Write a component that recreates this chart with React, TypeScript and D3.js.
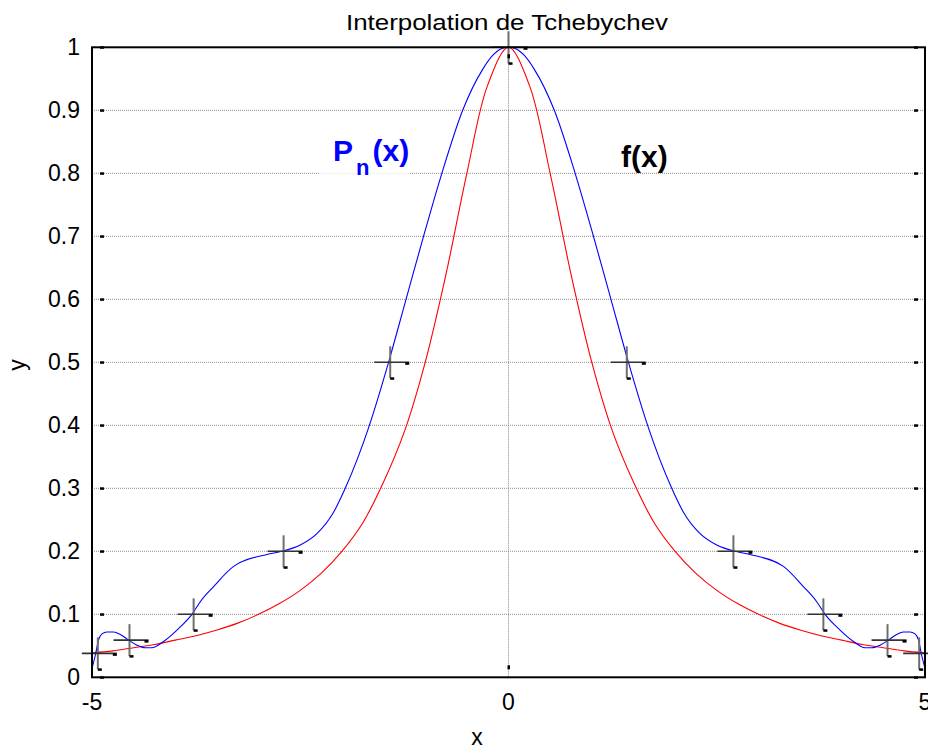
import { useRef, useEffect } from 'react';
import * as d3 from 'd3';

const W = 928;
const H = 749;

const yTicks = [0, 0.1, 0.2, 0.3, 0.4, 0.5, 0.6, 0.7, 0.8, 0.9, 1];
const yTickLabels = ['0', '0.1', '0.2', '0.3', '0.4', '0.5', '0.6', '0.7', '0.8', '0.9', '1'];
const xTicks = [-5, 0, 5];
const xTickLabels = ['-5', '0', '5'];

// f(x)
const redX = [
  -5, -4.75, -4.5, -4.25, -4, -3.75, -3.5, -3.25, -3, -2.75, -2.5, -2.25, -2, -1.75, -1.5, -1.25, -1, -0.75, -0.5, -0.25,
  0, 0.25, 0.5, 0.75, 1, 1.25, 1.5, 1.75, 2, 2.25, 2.5, 2.75, 3, 3.25, 3.5, 3.75, 4, 4.25, 4.5, 4.75, 5,
];
const redY = [
  0.039, 0.042, 0.047, 0.052, 0.059, 0.066, 0.075, 0.086, 0.1, 0.117, 0.138, 0.165, 0.2, 0.245, 0.31, 0.39, 0.5, 0.64, 0.8, 0.94,
  1.0, 0.94, 0.8, 0.64, 0.5, 0.39, 0.31, 0.245, 0.2, 0.165, 0.138, 0.117, 0.1, 0.086, 0.075, 0.066, 0.059, 0.052, 0.047, 0.042, 0.039,
];

// Pn(x)
const blueX = [
  -5, -4.96, -4.92, -4.88, -4.82, -4.74, -4.66, -4.56, -4.46, -4.36, -4.28, -4.15, -3.94, -3.8, -3.7, -3.54, -3.3, -2.9, -2.72,
  -2.5, -2.3, -2.1, -1.96, -1.67, -1.44, -1.23, -1.02, -0.8, -0.55, -0.31, -0.19, -0.08,
  0,
  0.08, 0.19, 0.31, 0.55, 0.8, 1.02, 1.23, 1.44, 1.67, 1.96, 2.1, 2.3, 2.5,
  2.72, 2.9, 3.3, 3.54, 3.7, 3.8, 3.94, 4.15, 4.28, 4.36, 4.46, 4.56, 4.66, 4.74, 4.82, 4.88, 4.92, 4.96, 5,
];
const blueY = [
  0.014, 0.035, 0.06, 0.069, 0.072, 0.072, 0.068, 0.059, 0.051, 0.047, 0.047, 0.056, 0.08, 0.1, 0.12, 0.144, 0.176, 0.195, 0.2,
  0.21, 0.228, 0.262, 0.3, 0.4, 0.5, 0.6, 0.7, 0.8, 0.9, 0.965, 0.987, 0.998,
  1.0,
  0.998, 0.987, 0.965, 0.9, 0.8, 0.7, 0.6, 0.5, 0.4, 0.3, 0.262, 0.228, 0.21,
  0.2, 0.195, 0.176, 0.144, 0.12, 0.1, 0.08, 0.056, 0.047, 0.047, 0.051, 0.059, 0.068, 0.072, 0.072, 0.069, 0.06, 0.035, 0.014,
];

// interpolation nodes (+ markers)
const nodeX = [-4.93, -4.55, -3.78, -2.7, -1.42, 0, 1.42, 2.7, 3.78, 4.55, 4.93];
const nodeY = [0.038, 0.059, 0.1, 0.2, 0.5, 1, 0.5, 0.2, 0.1, 0.059, 0.038];

const FONT = 'Arial, "Liberation Sans", Helvetica, sans-serif';

export default function App() {
  const svgRef = useRef<SVGSVGElement>(null);

  useEffect(() => {
    const svg = d3.select(svgRef.current);
    svg.selectAll('*').remove();

    const x = d3.scaleLinear().domain([-5, 5]).range([92, 925]);
    const y = d3.scaleLinear().domain([0, 1]).range([677.3, 47.3]);

    svg.append('rect').attr('width', W).attr('height', H).attr('fill', '#fff');

    // grid
    const grid = svg.append('g').attr('stroke', '#8c8c8c').attr('stroke-width', 1).attr('stroke-dasharray', '1,1');
    yTicks.slice(1, -1).forEach((t) => {
      grid.append('line').attr('x1', x(-5)).attr('x2', x(5)).attr('y1', y(t)).attr('y2', y(t));
    });
    grid.append('line').attr('x1', x(0)).attr('x2', x(0)).attr('y1', y(1)).attr('y2', y(0));

    // white patch behind the Pn label
    svg.append('rect').attr('x', 320).attr('y', y(0.8) - 2).attr('width', 90).attr('height', 4)
      .attr('fill', '#fff').attr('opacity', 0.75);

    // curves
    const redLine = d3.line<number>().x((_, i) => x(redX[i])).y((d) => y(d)).curve(d3.curveCatmullRom.alpha(0.5));
    const blueLine = d3.line<number>().x((_, i) => x(blueX[i])).y((d) => y(d)).curve(d3.curveMonotoneX);

    svg.append('path').attr('d', redLine(redY)).attr('fill', 'none').attr('stroke', '#ff0000').attr('stroke-width', 1.1);
    svg.append('path').attr('d', blueLine(blueY)).attr('fill', 'none').attr('stroke', '#0000ff').attr('stroke-width', 1.1);

    // node markers
    const mk = svg.append('g');
    nodeX.forEach((nx, i) => {
      const cx = x(nx);
      const cy = y(nodeY[i]);
      mk.append('line').attr('x1', cx).attr('x2', cx).attr('y1', cy - 16).attr('y2', cy + 16)
        .attr('stroke', '#6e6e6e').attr('stroke-width', 2);
      mk.append('line').attr('x1', cx - 16).attr('x2', cx + 19).attr('y1', cy).attr('y2', cy)
        .attr('stroke', '#333').attr('stroke-width', 1.6);
      mk.append('rect').attr('x', cx + 15).attr('y', cy).attr('width', 4).attr('height', 2.5).attr('fill', '#000');
      mk.append('rect').attr('x', cx).attr('y', cy + 15).attr('width', 4).attr('height', 2.5).attr('fill', '#000');
    });

    // axes box
    svg.append('rect').attr('x', x(-5)).attr('y', y(1)).attr('width', x(5) - x(-5)).attr('height', y(0) - y(1))
      .attr('fill', 'none').attr('stroke', '#000').attr('stroke-width', 2);

    // tick dashes (drawn a little inside the box)
    const tk = svg.append('g').attr('fill', '#000');
    yTicks.forEach((t) => {
      tk.append('rect').attr('x', x(-5) + 8).attr('y', y(t) - 1).attr('width', 4).attr('height', 2.5);
      tk.append('rect').attr('x', x(5) - 11).attr('y', y(t) - 1).attr('width', 4).attr('height', 2.5);
    });
    tk.append('rect').attr('x', x(0) - 1).attr('y', y(0) - 12).attr('width', 2.5).attr('height', 4);
    tk.append('rect').attr('x', x(0) - 1).attr('y', y(1) + 7).attr('width', 2.5).attr('height', 4);

    // tick labels
    yTicks.forEach((t, i) => {
      svg.append('text').attr('x', 80).attr('y', y(t) + 8).attr('text-anchor', 'end')
        .attr('font-family', FONT).attr('font-size', 23).attr('fill', '#000').text(yTickLabels[i]);
    });
    xTicks.forEach((t, i) => {
      svg.append('text').attr('x', x(t)).attr('y', 710).attr('text-anchor', 'middle')
        .attr('font-family', FONT).attr('font-size', 23).attr('fill', '#000').text(xTickLabels[i]);
    });

    // axis labels and title
    svg.append('text').attr('x', 477).attr('y', 745).attr('text-anchor', 'middle')
      .attr('font-family', FONT).attr('font-size', 23).text('x');
    svg.append('text').attr('transform', 'translate(25,365) rotate(-90)').attr('text-anchor', 'middle')
      .attr('font-family', FONT).attr('font-size', 23).text('y');
    svg.append('text').attr('x', 507).attr('y', 30).attr('text-anchor', 'middle')
      .attr('font-family', FONT).attr('font-size', 22)
      .attr('textLength', 322).attr('lengthAdjust', 'spacingAndGlyphs').text('Interpolation de Tchebychev');

    // curve labels
    const pn = svg.append('text').attr('x', 333).attr('y', 161).attr('font-family', FONT)
      .attr('font-weight', 'bold').attr('font-size', 30).attr('fill', '#0000ff');
    pn.append('tspan').text('P');
    pn.append('tspan').attr('dx', 3).attr('dy', 14).attr('font-size', 22).text('n');
    pn.append('tspan').attr('dx', 3).attr('dy', -14).text('(x)');

    svg.append('text').attr('x', 621).attr('y', 167).attr('font-family', FONT)
      .attr('font-weight', 'bold').attr('font-size', 30).attr('fill', '#000').text('f(x)');
  }, []);

  return <svg ref={svgRef} width={W} height={H} style={{ position: 'absolute', left: 0, top: 0 }} />;
}
